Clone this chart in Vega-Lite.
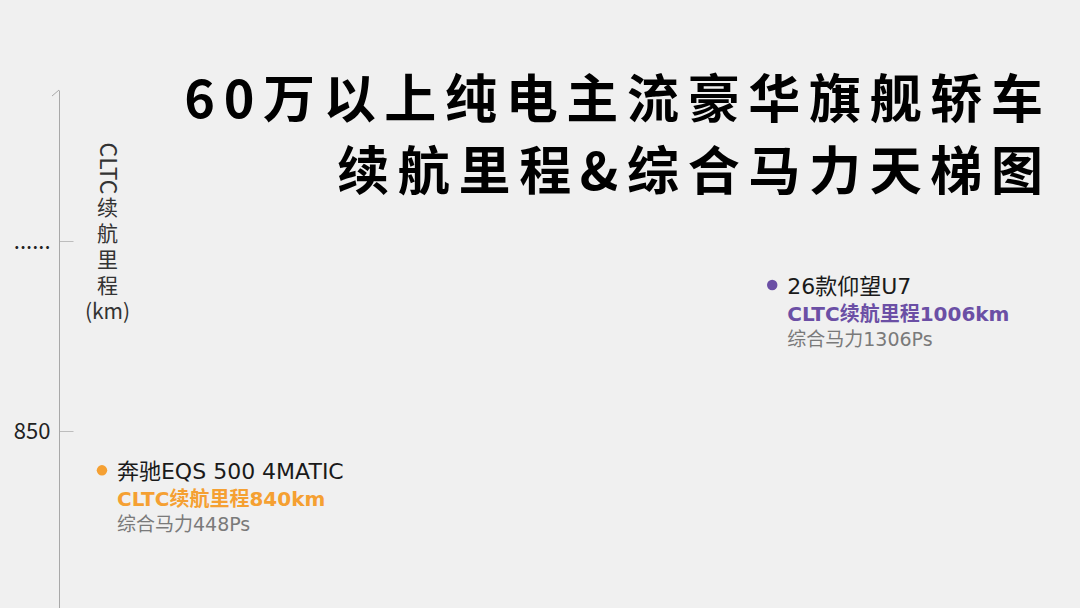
{
  "$schema": "https://vega.github.io/schema/vega-lite/v6.json",
  "width": 1021,
  "height": 608,
  "autosize": {"type": "none"},
  "padding": {"left": 59, "top": 0, "right": 0, "bottom": 0},
  "background": "#f0f0f0",
  "title": {
    "text": ["6\u20060\u2006万\u2006以\u2006上\u2006纯\u2006电\u2006主\u2006流\u2006豪\u2006华\u2006旗\u2006舰\u2006轿\u2006车", "续\u2006航\u2006里\u2006程\u2006&\u2006综\u2006合\u2006马\u2006力\u2006天\u2006梯\u2006图"],
    "anchor": "end",
    "frame": "group",
    "align": "right",
    "baseline": "top",
    "dx": -37,
    "dy": 201,
    "offset": 0,
    "font": "Noto Sans CJK SC",
    "fontSize": 52,
    "fontWeight": "bold",
    "color": "#000000",
    "lineHeight": 72
  },
  "data": {
    "values": [
      {"car": "奔驰EQS 500 4MATIC", "range_km": 840, "hp": 448, "range_label": "CLTC续航里程840km", "hp_label": "综合马力448Ps"},
      {"car": "26款仰望U7", "range_km": 1006, "hp": 1306, "range_label": "CLTC续航里程1006km", "hp_label": "综合马力1306Ps"}
    ]
  },
  "layer": [
    {
      "encoding": {
        "x": {"field": "hp", "type": "quantitative", "scale": {"domain": [393, 1700]}, "axis": null},
        "y": {
          "field": "range_km", "type": "quantitative",
          "scale": {"domain": [805, 850, 1006, 1017, 1055], "range": [608, 431, 285, 241, 90], "nice": false, "zero": false},
          "axis": {
            "orient": "left",
            "values": [850, 1017],
            "labelExpr": "datum.value == 850 ? '850' : '......'",
            "grid": false,
            "domainColor": "#a8a8a8",
            "domainWidth": 1,
            "tickColor": "#bdbdbd",
            "tickSize": -14,
            "labelPadding": 23,
            "labelFont": "Noto Sans CJK SC",
            "labelFontSize": 22,
            "labelColor": "#222222",
            "title": "CLTC",
            "titleAngle": 90,
            "titleX": 47,
            "titleY": 168,
            "titleAlign": "center",
            "titleBaseline": "middle",
            "titleFont": "Noto Sans CJK SC",
            "titleFontSize": 23,
            "titleFontWeight": "normal",
            "titleColor": "#333333"
          }
        }
      },
      "layer": [
        {
          "mark": {"type": "point", "filled": true, "size": 110, "opacity": 1},
          "encoding": {
            "color": {"field": "car", "type": "nominal", "scale": {"domain": ["奔驰EQS 500 4MATIC", "26款仰望U7"], "range": ["#F5A032", "#6B4FA5"]}, "legend": null}
          }
        },
        {
          "data": {"values": [{"hp": 393, "range_km": 1055}]},
          "mark": {"type": "point", "shape": "M -1 0.86 L 0 0", "size": 196, "filled": false, "stroke": "#a8a8a8", "strokeWidth": 1, "opacity": 1}
        }
      ]
    },
    {
      "encoding": {
        "x": {"field": "hp", "type": "quantitative", "scale": {"domain": [393, 1700]}, "axis": null},
        "y": {
          "field": "range_km", "type": "quantitative",
          "scale": {"domain": [805, 850, 1006, 1017, 1055], "range": [608, 431, 285, 241, 90], "nice": false, "zero": false},
          "axis": {
            "orient": "right",
            "domain": false,
            "ticks": false,
            "labels": false,
            "grid": false,
            "title": ["续", "航", "里", "程", "(km)"],
            "titleAngle": 0,
            "titleX": -973,
            "titleY": 208,
            "titleAlign": "center",
            "titleBaseline": "middle",
            "titleLineHeight": 26,
            "titleFont": "Noto Sans CJK SC",
            "titleFontSize": 21,
            "titleFontWeight": "normal",
            "titleColor": "#333333"
          }
        }
      },
      "layer": [
        {
          "mark": {"type": "text", "align": "left", "baseline": "middle", "dx": 15, "dy": 2, "font": "DejaVu Sans, Noto Sans CJK SC", "fontSize": 22, "color": "#1a1a1a"},
          "encoding": {"text": {"field": "car"}}
        },
        {
          "mark": {"type": "text", "align": "left", "baseline": "middle", "dx": 15, "dy": 30, "font": "DejaVu Sans, Noto Sans CJK SC", "fontSize": 20, "fontWeight": "bold"},
          "encoding": {
            "text": {"field": "range_label"},
            "color": {"field": "car", "type": "nominal", "scale": {"domain": ["奔驰EQS 500 4MATIC", "26款仰望U7"], "range": ["#F5A032", "#6B4FA5"]}, "legend": null}
          }
        },
        {
          "mark": {"type": "text", "align": "left", "baseline": "middle", "dx": 15, "dy": 55, "font": "DejaVu Sans, Noto Sans CJK SC", "fontSize": 19, "color": "#7a7a7a"},
          "encoding": {"text": {"field": "hp_label"}}
        }
      ]
    }
  ],
  "resolve": {"scale": {"y": "independent"}, "axis": {"y": "independent"}},
  "config": {"view": {"stroke": null}}
}
